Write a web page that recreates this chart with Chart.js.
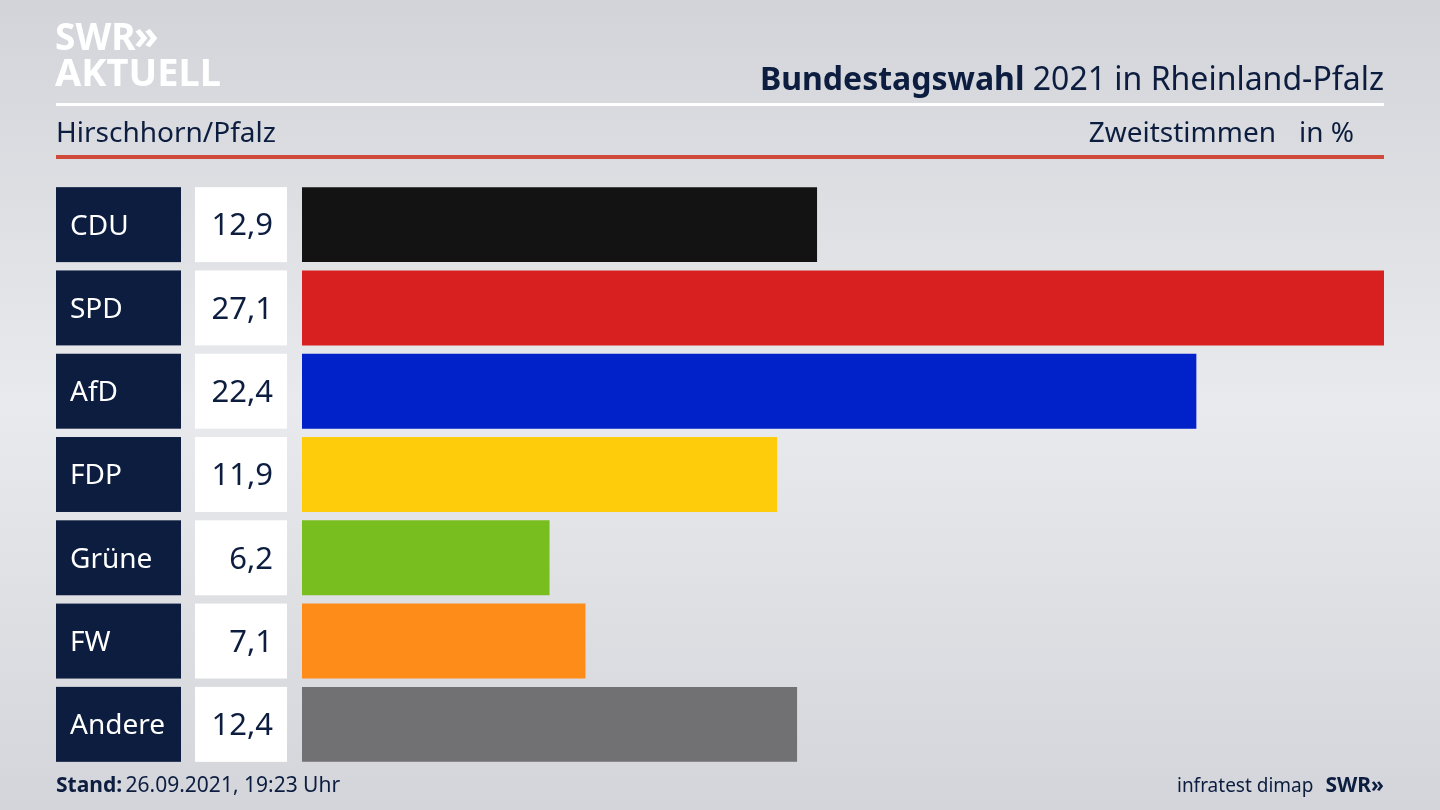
<!DOCTYPE html>
<html>
<head>
<meta charset="utf-8">
<script src="https://cdn.jsdelivr.net/npm/chart.js@4"></script>
<style>
  html, body { margin: 0; padding: 0; background: #dfe0e4; }
  #wrap { width: 1440px; height: 810px; position: relative; }
</style>
</head>
<body>
<div id="wrap"><canvas id="chart" width="1440" height="810"></canvas></div>
<script>
// Daten: Zweitstimmen in %
const parteien = ["CDU", "SPD", "AfD", "FDP", "Grüne", "FW", "Andere"];
const werte = [12.9, 27.1, 22.4, 11.9, 6.2, 7.1, 12.4];
const farben = ["#131313", "#d7201f", "#0022c8", "#fecc0a", "#78be1e", "#fe8c19", "#717173"];

const titelFett = "Bundestagswahl";
const titelRest = " 2021 in Rheinland-Pfalz";
const ort = "Hirschhorn/Pfalz";
const stand = "26.09.2021, 19:23 Uhr";

const NAVY = "#0c1d3f";
const FONT = "'Noto Sans', 'Open Sans', sans-serif";

const fmt = v => v.toFixed(1).replace(".", ",");

// Hintergrund, Kopf- und Fußzeile, Beschriftungskästen
const rahmen = {
  id: "rahmen",
  beforeDraw(chart) {
    const { ctx, width, height } = chart;
    ctx.save();
    const g = ctx.createLinearGradient(0, 0, 0, height);
    g.addColorStop(0, "#d2d4d9");
    g.addColorStop(0.5, "#e9eaed");
    g.addColorStop(1, "#d3d5da");
    ctx.fillStyle = g;
    ctx.fillRect(0, 0, width, height);

    // Logo
    ctx.fillStyle = "#ffffff";
    ctx.font = `bold 37px ${FONT}`;
    ctx.textBaseline = "alphabetic";
    ctx.textAlign = "left";
    ctx.fillText("SWR", 55, 50);
    ctx.font = `bold 40px ${FONT}`;
    ctx.fillText("»", 134, 49);
    ctx.font = `bold 38px ${FONT}`;
    ctx.fillText("AKTUELL", 55, 86);

    // Titel
    ctx.textAlign = "right";
    ctx.fillStyle = NAVY;
    ctx.font = `32px ${FONT}`;
    const wRest = ctx.measureText(titelRest).width;
    ctx.fillText(titelRest, 1384, 90);
    ctx.font = `bold 32px ${FONT}`;
    ctx.fillText(titelFett, 1384 - wRest, 90);

    // weiße Linie
    ctx.fillStyle = "#ffffff";
    ctx.fillRect(56, 103, 1328, 3);

    // Unterzeile
    ctx.fillStyle = NAVY;
    ctx.font = `28px ${FONT}`;
    ctx.textAlign = "left";
    ctx.fillText(ort, 56, 142);
    ctx.textAlign = "right";
    ctx.fillText("in %", 1354, 142);
    ctx.fillText("Zweitstimmen", 1276, 142);

    // rote Linie
    ctx.fillStyle = "#d1493b";
    ctx.fillRect(56, 155, 1328, 4);

    // Fußzeile
    ctx.fillStyle = NAVY;
    ctx.textAlign = "left";
    ctx.font = `bold 21px ${FONT}`;
    ctx.fillText("Stand:", 56, 792);
    const wStand = ctx.measureText("Stand: ").width;
    ctx.font = `21px ${FONT}`;
    ctx.fillText(stand, 56 + wStand - 2, 792);
    ctx.textAlign = "right";
    ctx.font = `bold 21px ${FONT}`;
    const wSwr = ctx.measureText("SWR»").width;
    ctx.fillText("SWR»", 1384, 792);
    ctx.font = `19px ${FONT}`;
    ctx.fillText("infratest dimap", 1384 - wSwr - 12, 792);
    ctx.restore();
  },
  afterDatasetsDraw(chart) {
    const { ctx } = chart;
    const meta = chart.getDatasetMeta(0);
    ctx.save();
    meta.data.forEach((bar, i) => {
      const top = bar.y - bar.height / 2;
      const h = bar.height;
      ctx.fillStyle = NAVY;
      ctx.fillRect(56, top, 125, h);
      ctx.fillStyle = "#ffffff";
      ctx.fillRect(195, top, 92, h);
      ctx.textBaseline = "middle";
      ctx.font = `28px ${FONT}`;
      ctx.textAlign = "left";
      ctx.fillText(parteien[i], 70, bar.y + 2);
      ctx.fillStyle = NAVY;
      ctx.font = `31px ${FONT}`;
      ctx.textAlign = "right";
      ctx.fillText(fmt(werte[i]), 273, bar.y + 2);
    });
    ctx.restore();
  }
};

new Chart(document.getElementById("chart").getContext("2d"), {
  type: "bar",
  data: {
    labels: parteien,
    datasets: [{
      data: werte,
      backgroundColor: farben,
      borderWidth: 0,
      barPercentage: 1,
      categoryPercentage: 0.9
    }]
  },
  options: {
    indexAxis: "y",
    responsive: false,
    animation: false,
    layout: { padding: { left: 302, right: 56, top: 183, bottom: 44 } },
    plugins: { legend: { display: false }, tooltip: { enabled: false } },
    scales: {
      x: { display: false, min: 0, max: Math.max(...werte) },
      y: { display: false }
    }
  },
  plugins: [rahmen]
});
</script>
</body>
</html>
